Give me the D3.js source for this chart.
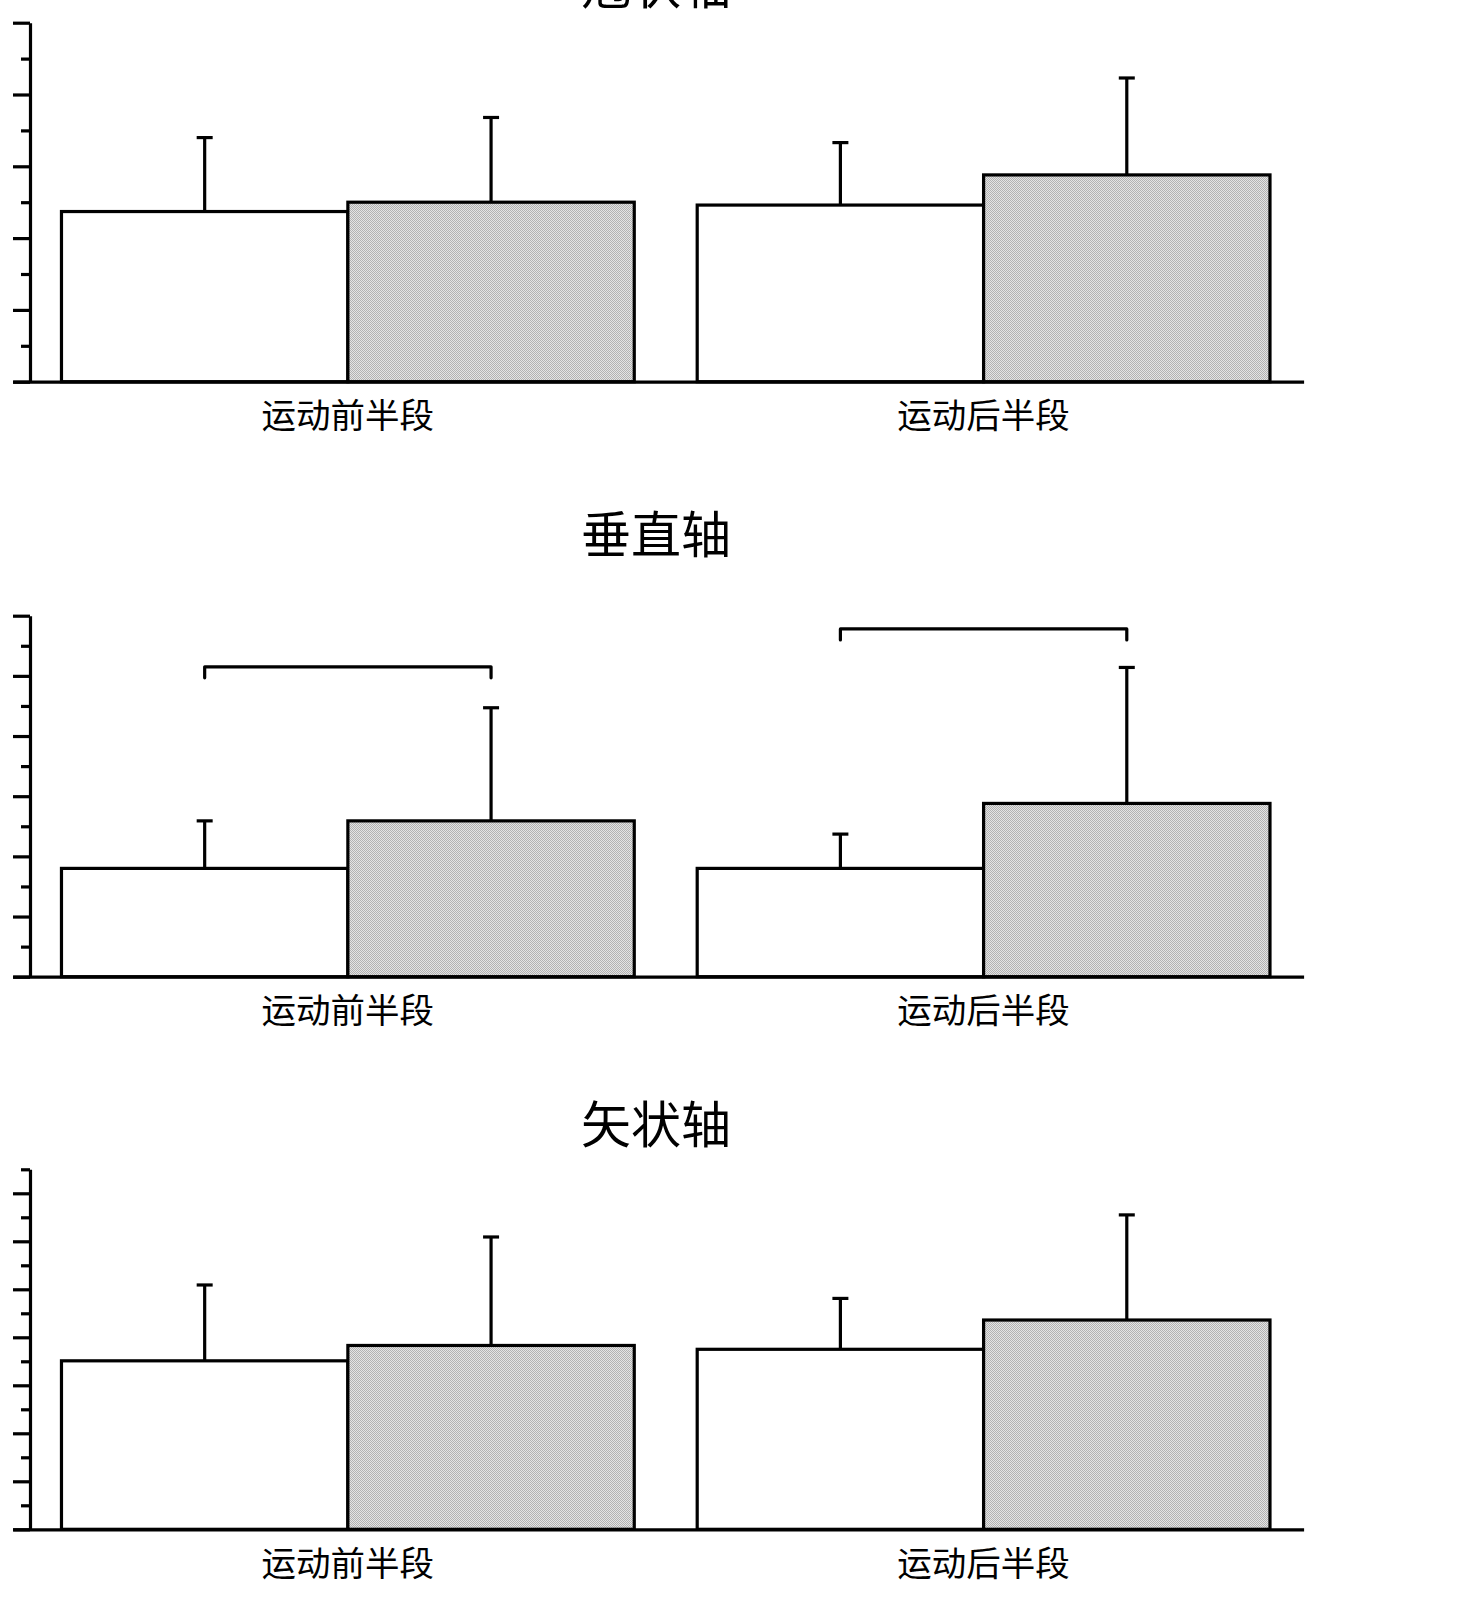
<!DOCTYPE html>
<html>
<head>
<meta charset="utf-8">
<script src="https://cdn.jsdelivr.net/npm/d3@7"></script>
<style>
  html, body { margin: 0; padding: 0; background: #fff; }
  svg { display: block; }
</style>
</head>
<body>
<svg id="chart" width="1470" height="1600"></svg>
<script>
// ---------------- data ----------------
const categories = ["运动前半段", "运动后半段"];
const seriesNames = ["组一", "组二"];           // white bar, grey bar (no legend shown)
const panelTitles = ["冠状轴", "垂直轴", "矢状轴"];

// means and upper error (SD) per panel: [category0, category1]
const coronalWhite   = [2.37, 2.46];
const coronalWhiteSD = [1.03, 0.87];
const coronalGrey    = [2.50, 2.88];
const coronalGreySD  = [1.18, 1.35];

const verticalWhite   = [1.80, 1.80];
const verticalWhiteSD = [0.79, 0.57];
const verticalGrey    = [2.59, 2.88];
const verticalGreySD  = [1.88, 2.26];
const verticalBrackets = [5.15, 5.78];   // significance bracket heights per category

const sagittalWhite   = [3.51, 3.75];
const sagittalWhiteSD = [1.58, 1.06];
const sagittalGrey    = [3.83, 4.36];
const sagittalGreySD  = [2.26, 2.19];

// y-axis extents (units) and tick values
const coronalMax = 5,  coronalMajor = [0,1,2,3,4,5],        coronalMinor = [0.5,1.5,2.5,3.5,4.5];
const verticalMax = 6, verticalMajor = [0,1,2,3,4,5,6],     verticalMinor = [0.5,1.5,2.5,3.5,4.5,5.5];
const sagittalMax = 7.5, sagittalMajor = [0,1,2,3,4,5,6,7], sagittalMinor = [0.5,1.5,2.5,3.5,4.5,5.5,6.5,7.5];

// ---------------- layout ----------------
const axisX = 30, axisRight = 1303.6;
const panels = [
  { title: panelTitles[0], titleY: 4,    top: 22.7,   base: 381.7,  max: coronalMax,  major: coronalMajor,  minor: coronalMinor,
    white: coronalWhite, whiteSD: coronalWhiteSD, grey: coronalGrey, greySD: coronalGreySD, brackets: null },
  { title: panelTitles[1], titleY: 553,  top: 615.7,  base: 976.7,  max: verticalMax, major: verticalMajor, minor: verticalMinor,
    white: verticalWhite, whiteSD: verticalWhiteSD, grey: verticalGrey, greySD: verticalGreySD, brackets: verticalBrackets },
  { title: panelTitles[2], titleY: 1143, top: 1169.3, base: 1529.3, max: sagittalMax, major: sagittalMajor, minor: sagittalMinor,
    white: sagittalWhite, whiteSD: sagittalWhiteSD, grey: sagittalGrey, greySD: sagittalGreySD, brackets: null }
];

const svg = d3.select("#chart");
svg.append("rect").attr("width", 1470).attr("height", 1600).attr("fill", "#fff");

// dithered grey fill
const defs = svg.append("defs");
const pat = defs.append("pattern").attr("id", "dither")
  .attr("patternUnits", "userSpaceOnUse").attr("width", 2).attr("height", 2);
pat.append("rect").attr("width", 2).attr("height", 2).attr("fill", "#e4e4e4");
pat.append("rect").attr("width", 1).attr("height", 1).attr("fill", "#b2b2b2");
pat.append("rect").attr("x", 1).attr("y", 1).attr("width", 1).attr("height", 1).attr("fill", "#b2b2b2");

const x = d3.scaleBand().domain(categories).range([12.7, axisRight])
  .paddingInner(0.099).paddingOuter(0.0648).align(0.592);
const xs = d3.scaleBand().domain(seriesNames).range([0, x.bandwidth()]).padding(0);
const fills = ["#ffffff", "url(#dither)"];
const capW = 8;
const SW = 3.2;

panels.forEach(p => {
  const g = svg.append("g");
  const y = d3.scaleLinear().domain([0, p.max]).range([p.base, p.top]);

  // title
  g.append("text").attr("x", 656).attr("y", p.titleY)
    .attr("text-anchor", "middle")
    .attr("font-family", "'Noto Sans CJK SC', sans-serif")
    .attr("font-size", 50).attr("fill", "#000")
    .text(p.title);

  // bars
  const rows = [];
  categories.forEach((c, i) => {
    rows.push({ cat: c, s: seriesNames[0], v: p.white[i], sd: p.whiteSD[i], fill: fills[0] });
    rows.push({ cat: c, s: seriesNames[1], v: p.grey[i],  sd: p.greySD[i],  fill: fills[1] });
  });

  // error bars
  const eb = g.append("g").attr("stroke", "#000").attr("stroke-width", SW);
  rows.forEach(r => {
    const cx = x(r.cat) + xs(r.s) + xs.bandwidth() / 2;
    eb.append("line").attr("x1", cx).attr("x2", cx).attr("y1", y(r.v)).attr("y2", y(r.v + r.sd));
    eb.append("line").attr("x1", cx - capW).attr("x2", cx + capW).attr("y1", y(r.v + r.sd)).attr("y2", y(r.v + r.sd));
  });

  g.append("g").selectAll("rect").data(rows).join("rect")
    .attr("x", d => x(d.cat) + xs(d.s))
    .attr("y", d => y(d.v))
    .attr("width", xs.bandwidth())
    .attr("height", d => y(0) - y(d.v))
    .attr("fill", d => d.fill)
    .attr("stroke", "#000").attr("stroke-width", SW);

  // brackets
  if (p.brackets) {
    categories.forEach((c, i) => {
      const x1 = x(c) + xs(seriesNames[0]) + xs.bandwidth() / 2;
      const x2 = x(c) + xs(seriesNames[1]) + xs.bandwidth() / 2;
      const yb = y(p.brackets[i]);
      g.append("path")
        .attr("d", `M${x1},${yb + 11}V${yb}H${x2}V${yb + 11}`)
        .attr("fill", "none").attr("stroke", "#000").attr("stroke-width", SW)
        .attr("stroke-linejoin", "round").attr("stroke-linecap", "round");
    });
  }

  // y axis: major and minor ticks
  const yMajor = g.append("g").attr("transform", `translate(${axisX},0)`)
    .call(d3.axisLeft(y).tickValues(p.major).tickSize(17).tickSizeOuter(0).tickFormat(""));
  const yMinor = g.append("g").attr("transform", `translate(${axisX},0)`)
    .call(d3.axisLeft(y).tickValues(p.minor).tickSize(9).tickSizeOuter(0).tickFormat(""));
  yMinor.select(".domain").remove();
  [yMajor, yMinor].forEach(a => {
    a.selectAll("line").attr("stroke", "#000").attr("stroke-width", SW);
    a.select(".domain").attr("stroke", "#000").attr("stroke-width", SW);
  });

  // x axis with category labels
  const xa = g.append("g").attr("transform", `translate(0,${p.base})`)
    .call(d3.axisBottom(x).tickSize(0).tickSizeOuter(0).tickPadding(22));
  xa.select(".domain").attr("stroke", "#000").attr("stroke-width", SW);
  xa.selectAll("text")
    .attr("font-family", "'Noto Sans CJK SC', sans-serif")
    .attr("font-size", 34.5).attr("fill", "#000");
});
</script>
</body>
</html>
